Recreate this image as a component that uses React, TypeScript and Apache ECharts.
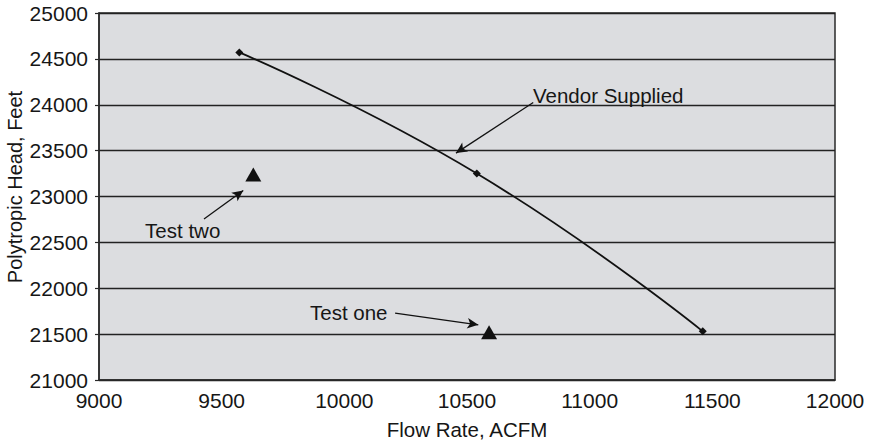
import React, { useEffect, useRef } from "react";
import * as echarts from "echarts";

const vendorFlow = [9572, 10540, 11461];
const vendorHead = [24570, 23250, 21530];

const testNames = ["Test two", "Test one"];
const testFlow = [9629, 10590];
const testHead = [23240, 21520];

const noteTexts = ["Vendor Supplied", "Test two", "Test one"];
const noteTextFlow = [10769, 9188, 9860];
const noteTextHead = [24098, 22626, 21732];
const arrowFromFlow = [10770, 9428, 10207];
const arrowFromHead = [24025, 22754, 21728];
const arrowToFlow = [10455, 9588, 10546];
const arrowToHead = [23473, 23065, 21601];

const xMin = 9000, xMax = 12000, xStep = 500;
const yMin = 21000, yMax = 25000, yStep = 500;

const xTitle = "Flow Rate, ACFM";
const yTitle = "Polytropic Head, Feet";

const FONT = "'Liberation Sans', Arial, Helvetica, sans-serif";
const INK = "#161616";

export default function App() {
  const ref = useRef<HTMLDivElement>(null);
  useEffect(() => {
    if (!ref.current) return;
    const chart = echarts.init(ref.current, undefined, { renderer: "svg" });
    chart.setOption({
      animation: false,
      backgroundColor: "#ffffff",
      textStyle: { fontFamily: FONT, color: INK },
      grid: {
        left: 99,
        top: 13,
        right: 36,
        bottom: 67,
        show: true,
        backgroundColor: "#dcdde0",
        borderColor: "#2a2a2a",
        borderWidth: 1.5,
      },
      xAxis: {
        type: "value",
        min: xMin,
        max: xMax,
        interval: xStep,
        name: xTitle,
        nameLocation: "middle",
        nameGap: 39,
        nameTextStyle: { fontSize: 20.5, color: INK, fontFamily: FONT },
        axisLine: { show: true, lineStyle: { color: "#2a2a2a", width: 1.5 } },
        axisTick: { show: false },
        axisLabel: {
          fontSize: 21,
          color: INK,
          margin: 10,
          fontFamily: FONT,
          formatter: (v: number) => String(v),
        },
        splitLine: { show: false },
      },
      yAxis: {
        type: "value",
        min: yMin,
        max: yMax,
        interval: yStep,
        axisLine: { show: true, lineStyle: { color: "#2a2a2a", width: 1.5 } },
        axisTick: { show: true, length: 4, lineStyle: { color: "#2a2a2a", width: 1.2 } },
        axisLabel: {
          fontSize: 21,
          color: INK,
          margin: 11,
          fontFamily: FONT,
          formatter: (v: number) => String(v),
        },
        splitLine: { show: true, lineStyle: { color: "#222", width: 1.3 } },
      },
      graphic: [
        {
          type: "text",
          x: 15,
          y: 187,
          rotation: Math.PI / 2,
          style: {
            text: yTitle,
            fontSize: 20,
            fontFamily: FONT,
            fill: INK,
            align: "center",
            verticalAlign: "middle",
          },
        },
      ],
      series: [
        {
          name: "Vendor Supplied",
          type: "line",
          smooth: 0.5,
          data: vendorFlow.map((x, i) => [x, vendorHead[i]]),
          symbol: "diamond",
          symbolSize: 8,
          itemStyle: { color: "#111", opacity: 1 },
          lineStyle: { color: "#111", width: 1.8 },
          z: 5,
        },
        {
          name: "Tests",
          type: "scatter",
          data: testFlow.map((x, i) => ({ name: testNames[i], value: [x, testHead[i]] })),
          symbol: "triangle",
          symbolSize: [16, 14],
          itemStyle: { color: "#111", opacity: 1 },
          z: 5,
        },
        {
          name: "Notes",
          type: "scatter",
          data: noteTexts.map((t, i) => ({ name: t, value: [noteTextFlow[i], noteTextHead[i]] })),
          symbolSize: 0,
          silent: true,
          itemStyle: { opacity: 1 },
          label: {
            show: true,
            position: "right",
            distance: 0,
            formatter: (p: any) => p.name,
            fontSize: 20.5,
            fontFamily: FONT,
            color: INK,
            opacity: 1,
          },
          markLine: {
            silent: true,
            symbol: ["none", "arrow"],
            symbolSize: [8, 11],
            label: { show: false },
            lineStyle: { color: "#111", width: 1.3, type: "solid", opacity: 1 },
            data: noteTexts.map((_, i) => [
              { coord: [arrowFromFlow[i], arrowFromHead[i]] },
              { coord: [arrowToFlow[i], arrowToHead[i]] },
            ]),
          },
          z: 6,
        },
      ],
    });
    return () => chart.dispose();
  }, []);
  return (
    <div
      ref={ref}
      style={{ position: "fixed", left: 0, top: 0, width: 871, height: 447, background: "#fff" }}
    />
  );
}
